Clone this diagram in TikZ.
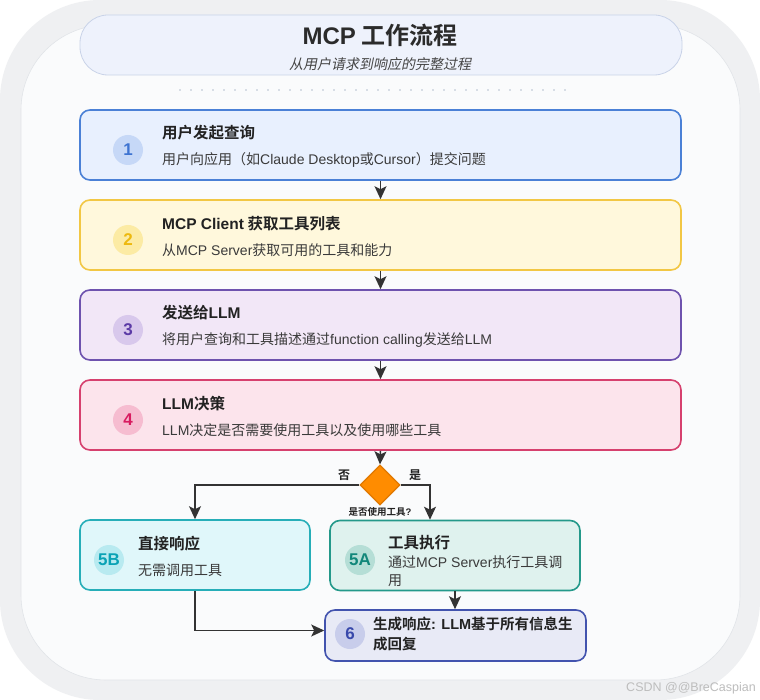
\documentclass[tikz,border=0pt]{standalone}
\usepackage{fontspec}
\setmainfont{Noto Sans CJK SC}[BoldFont={Noto Sans CJK SC Bold}]
\newfontfamily\slfont[FakeSlant=0.2]{Noto Sans CJK SC}
\newfontfamily\latfont{Liberation Sans}[BoldFont={Liberation Sans Bold}]
\newcommand{\la}[1]{{\latfont #1}}
\usetikzlibrary{shapes.geometric,arrows.meta,calc}
\definecolor{outerbg}{HTML}{EFF0F2}
\definecolor{panelbg}{HTML}{FAFBFC}
\definecolor{panelline}{HTML}{E1E4E8}
\definecolor{titlebg}{HTML}{EEF2FC}
\definecolor{titleline}{HTML}{C9D3E8}
\definecolor{titletxt}{HTML}{2B2B2B}
\definecolor{subtxt}{HTML}{444444}
\definecolor{dotc}{HTML}{B5BFCE}
\definecolor{bAfill}{HTML}{E8F0FE}\definecolor{bAline}{HTML}{4A80D6}\definecolor{bAcirc}{HTML}{C6D8F7}\definecolor{bAnum}{HTML}{3D73D1}
\definecolor{bBfill}{HTML}{FFF8DC}\definecolor{bBline}{HTML}{F2C744}\definecolor{bBcirc}{HTML}{FCEBA4}\definecolor{bBnum}{HTML}{EDB90F}
\definecolor{bCfill}{HTML}{F2E7F7}\definecolor{bCline}{HTML}{6E52AE}\definecolor{bCcirc}{HTML}{D8C8EC}\definecolor{bCnum}{HTML}{5B3AA6}
\definecolor{bDfill}{HTML}{FCE4EC}\definecolor{bDline}{HTML}{D6406E}\definecolor{bDcirc}{HTML}{F6BCD0}\definecolor{bDnum}{HTML}{D81B60}
\definecolor{bEfill}{HTML}{E0F7FA}\definecolor{bEline}{HTML}{26AEB8}\definecolor{bEcirc}{HTML}{B8EAF0}\definecolor{bEnum}{HTML}{0AA2B5}
\definecolor{bFfill}{HTML}{DFF2EE}\definecolor{bFline}{HTML}{24998A}\definecolor{bFcirc}{HTML}{B5DED6}\definecolor{bFnum}{HTML}{12877A}
\definecolor{bGfill}{HTML}{E8EAF6}\definecolor{bGline}{HTML}{4253AE}\definecolor{bGcirc}{HTML}{C8CDEB}\definecolor{bGnum}{HTML}{3949AB}
\definecolor{diafill}{HTML}{FF8C00}
\definecolor{dialine}{HTML}{E07800}
\definecolor{arrowc}{HTML}{333333}
\definecolor{txtdark}{HTML}{222222}
\definecolor{txtmid}{HTML}{3A3A3A}
\definecolor{wmark}{HTML}{BDBDBD}
\tikzset{
  stepbox/.style={draw, line width=1.6pt, rounded corners=10pt, minimum height=70pt, inner sep=0pt},
  numc/.style={circle, minimum size=30pt, inner sep=0pt, font=\latfont\bfseries\fontsize{17}{17}\selectfont},
  ttl/.style={anchor=west, inner sep=0pt, text=txtdark, font=\bfseries\fontsize{15.5}{18}\selectfont},
  dsc/.style={anchor=west, inner sep=0pt, text=txtmid, font=\fontsize{14}{18}\selectfont, align=left},
  arr/.style={draw=arrowc, line width=1.5pt, -{Stealth[length=13pt,width=12pt,inset=3pt]}},
  lbl/.style={inner sep=0pt, text=txtdark, font=\bfseries\fontsize{12}{12}\selectfont},
}
\begin{document}
\begin{tikzpicture}[x=1pt,y=-1pt]
\useasboundingbox (0,0) rectangle (760,700);
\fill[white] (0,0) rectangle (760,700);
\fill[outerbg, rounded corners=100pt] (0,0) rectangle (760,700);
\filldraw[fill=panelbg, draw=panelline, line width=0.6pt, rounded corners=85pt] (21,25) rectangle (740,680);

% header
\node[draw=titleline, fill=titlebg, line width=0.8pt, rounded corners=28pt, minimum width=602pt, minimum height=60pt, inner sep=0pt] (head) at (381,45) {};
\node[inner sep=0pt, text=titletxt, font=\bfseries\fontsize{24}{28}\selectfont] (title) at (380,35) {{\latfont\bfseries MCP} 工作流程};
\node[inner sep=0pt, text=subtxt, font=\slfont\fontsize{14}{16}\selectfont] (sub) at (380,64) {从用户请求到响应的完整过程};
\draw[dotc, line width=1.8pt, line cap=round, dash pattern=on 0pt off 11pt] (180,90) -- (575,90);

% step 1
\node[stepbox, draw=bAline, fill=bAfill, minimum width=601pt] (b1) at (380.5,145) {};
\node[numc, fill=bAcirc, text=bAnum] (n1) at (128,150) {1};
\node[ttl] (t1) at (162,133) {用户发起查询};
\node[dsc] (d1) at (162,160) {用户向应用（如\la{Claude Desktop}或\la{Cursor}）提交问题};

% step 2
\node[stepbox, draw=bBline, fill=bBfill, minimum width=601pt] (b2) at (380.5,235) {};
\node[numc, fill=bBcirc, text=bBnum] (n2) at (128,240) {2};
\node[ttl] (t2) at (162,224) {\la{MCP Client} 获取工具列表};
\node[dsc] (d2) at (162,250) {从\la{MCP Server}获取可用的工具和能力};

% step 3
\node[stepbox, draw=bCline, fill=bCfill, minimum width=601pt] (b3) at (380.5,325) {};
\node[numc, fill=bCcirc, text=bCnum] (n3) at (128,330) {3};
\node[ttl] (t3) at (162,313) {发送给\la{LLM}};
\node[dsc] (d3) at (162,340) {将用户查询和工具描述通过\la{function calling}发送给\la{LLM}};

% step 4
\node[stepbox, draw=bDline, fill=bDfill, minimum width=601pt] (b4) at (380.5,415) {};
\node[numc, fill=bDcirc, text=bDnum] (n4) at (128,420) {4};
\node[ttl] (t4) at (162,404) {\la{LLM}决策};
\node[dsc] (d4) at (162,430) {\la{LLM}决定是否需要使用工具以及使用哪些工具};

% decision
\node[diamond, draw=dialine, fill=diafill, line width=1.2pt, minimum width=40pt, minimum height=40pt, inner sep=0pt] (dec) at (380,485) {};
\node[lbl] (no) at (344,475) {否};
\node[lbl] (yes) at (415,475) {是};
\node[lbl, font=\bfseries\fontsize{9.5}{10}\selectfont] (q) at (380,512) {是否使用工具\la{?}};

% 5B
\node[stepbox, draw=bEline, fill=bEfill, minimum width=230pt] (b5B) at (195,555) {};
\node[numc, fill=bEcirc, text=bEnum] (n5B) at (109,560) {5B};
\node[ttl] (t5B) at (138,544) {直接响应};
\node[dsc] (d5B) at (138,570) {无需调用工具};

% 5A
\node[stepbox, draw=bFline, fill=bFfill, minimum width=250pt] (b5A) at (455,555.5) {};
\node[numc, fill=bFcirc, text=bFnum] (n5A) at (360,560) {5A};
\node[ttl] (t5A) at (388,543) {工具执行};
\node[dsc] (d5A) at (388,571) {通过\la{MCP Server}执行工具调\\用};

% 6
\node[stepbox, draw=bGline, fill=bGfill, minimum width=261pt, minimum height=51pt] (b6) at (455.5,635.5) {};
\node[numc, fill=bGcirc, text=bGnum] (n6) at (350,634) {6};
\node[ttl, align=left, font=\bfseries\fontsize{14.5}{20}\selectfont] (t6) at (373,634) {生成响应\la{: LLM}基于所有信息生\\成回复};

% connectors
\draw[arr] (b1.south) -- (b2.north);
\draw[arr] (b2.south) -- (b3.north);
\draw[arr] (b3.south) -- (b4.north);
\draw[arr] (b4.south) -- (dec.north);
\draw[arr] (dec.west) -| (b5B.north);
\draw[arr] (dec.east) -| ([xshift=-25pt]b5A.north);
\draw[arr] (b5A.south) -- (b5A.south |- b6.north);
\draw[arr] (b5B.south) |- ([yshift=5pt]b6.west);

% watermark
\node[anchor=east, inner sep=0pt, text=wmark, font=\latfont\fontsize{12.5}{13}\selectfont] (wm) at (756,688) {CSDN @@BreCaspian};
\end{tikzpicture}
\end{document}
